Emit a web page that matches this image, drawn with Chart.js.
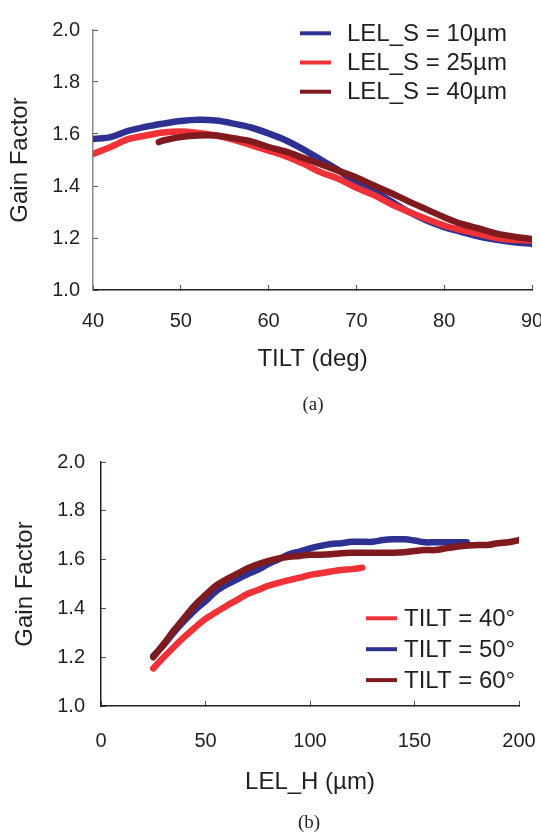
<!DOCTYPE html>
<html>
<head>
<meta charset="utf-8">
<script src="https://cdn.jsdelivr.net/npm/chart.js"></script>
<style>
  body { margin: 0; background: #fff; }
  #wrap { position: relative; width: 541px; height: 836px; }
  canvas { display: block; }
  .cap { position: absolute; font: 19px "Liberation Serif", "Times New Roman", serif; color: #231f20; transform: translate(-50%, -50%); }
</style>
</head>
<body>
<div id="wrap">
  <canvas id="chartA" width="541" height="420"></canvas>
  <canvas id="chartB" width="541" height="416"></canvas>
  <div class="cap" style="left:313px; top:404px">(a)</div>
  <div class="cap" style="left:309px; top:822px">(b)</div>
</div>
<script>
// (a) gain factor vs tilt
const tiltDeg = [40, 42, 44, 46, 48, 50, 52, 54, 56, 58, 60, 62, 64, 66, 68, 70, 72, 74, 76, 78, 80, 82, 84, 86, 88, 90]
const gainS10 = [1.581, 1.588, 1.612, 1.628, 1.64, 1.65, 1.655, 1.652, 1.64, 1.625, 1.602, 1.575, 1.54, 1.50, 1.46, 1.41, 1.38, 1.34, 1.30, 1.267, 1.242, 1.223, 1.205, 1.193, 1.184, 1.177]
const gainS25 = [1.523, 1.55, 1.58, 1.594, 1.606, 1.61, 1.604, 1.594, 1.578, 1.557, 1.536, 1.514, 1.485, 1.452, 1.427, 1.393, 1.365, 1.33, 1.30, 1.273, 1.248, 1.23, 1.215, 1.2, 1.193, 1.19]
const tiltS40 = [47.5, 48, 50, 52, 54, 56, 58, 60, 62, 64, 66, 68, 70, 72, 74, 76, 78, 80, 82, 84, 86, 88, 90]
const gainS40 = [1.569, 1.575, 1.588, 1.594, 1.594, 1.584, 1.572, 1.55, 1.532, 1.507, 1.483, 1.458, 1.433, 1.402, 1.372, 1.34, 1.31, 1.28, 1.254, 1.236, 1.217, 1.205, 1.196]

// (b) gain factor vs LEL_H
const lelH = [25, 30, 35, 40, 45, 50, 55, 60, 65, 70, 75, 80, 85, 90, 95, 100, 105, 110, 115, 120, 125, 130, 135, 140, 145, 150, 155, 160, 165, 170, 175, 180, 185, 190, 195, 200]
const gainT40 = [1.154, 1.20, 1.243, 1.284, 1.322, 1.357, 1.384, 1.41, 1.434, 1.459, 1.475, 1.493, 1.505, 1.516, 1.526, 1.537, 1.544, 1.551, 1.557, 1.561, 1.567]
const gainT50 = [1.205, 1.25, 1.303, 1.35, 1.393, 1.43, 1.47, 1.497, 1.518, 1.54, 1.558, 1.582, 1.601, 1.622, 1.633, 1.646, 1.656, 1.664, 1.667, 1.673, 1.673, 1.673, 1.68, 1.683, 1.683, 1.678, 1.671, 1.671, 1.671, 1.671, 1.671]
const gainT60 = [1.2, 1.254, 1.311, 1.363, 1.414, 1.455, 1.493, 1.519, 1.541, 1.564, 1.581, 1.594, 1.605, 1.612, 1.615, 1.62, 1.62, 1.622, 1.626, 1.628, 1.628, 1.628, 1.628, 1.628, 1.63, 1.635, 1.639, 1.639, 1.646, 1.653, 1.657, 1.66, 1.66, 1.667, 1.671, 1.68]

const BLUE = '#2e3192'
const RED = '#ee3237'
const DARK = '#7f1a1e'
const INK = '#231f20'

Chart.defaults.font.family = '"Liberation Sans", Arial, Helvetica, sans-serif'
Chart.defaults.color = INK

const pts = (xs, ys) => ys.map((y, i) => ({x: xs[i], y}))

const line = (label, data, color, order) => ({
    label, data, order,
    borderColor: color,
    backgroundColor: color,
    borderWidth: 6.5,
    borderCapStyle: 'round',
    borderJoinStyle: 'round',
    pointRadius: 0,
    tension: 0.35,
    fill: false
})

// legend drawn inside the plot area
const insideLegend = {
    id: 'insideLegend',
    afterDraw(chart, args, opts) {
        const ctx = chart.ctx
        ctx.save()
        ctx.font = '24px "Liberation Sans", Arial, sans-serif'
        ctx.textBaseline = 'middle'
        ctx.fillStyle = INK
        chart.data.datasets.forEach((ds, i) => {
            const y = opts.y + i * opts.rowH
            ctx.strokeStyle = ds.borderColor
            ctx.lineWidth = 4
            ctx.beginPath()
            ctx.moveTo(opts.x, y)
            ctx.lineTo(opts.x + opts.len, y)
            ctx.stroke()
            ctx.fillText(ds.label, opts.x + opts.len + opts.gap, y + 1)
        })
        ctx.restore()
    }
}

const axes = (cfg) => ({
    x: {
        type: 'linear', min: cfg.xmin, max: cfg.xmax,
        ticks: {stepSize: cfg.xstep, font: {size: 20}, padding: cfg.xpad, color: INK},
        grid: {drawOnChartArea: false, tickLength: -5, color: '#555', lineWidth: 1},
        border: {color: INK, width: 1.5},
        title: {display: true, text: cfg.xtitle, font: {size: 24}, color: INK, padding: {top: 4, bottom: 4}},
        afterFit: s => { s.height = cfg.xh; s.paddingLeft = 0; s.paddingRight = 0 }
    },
    y: {
        min: 1, max: 2,
        ticks: {stepSize: 0.2, font: {size: 20}, padding: cfg.ypad, color: INK, callback: v => v.toFixed(1)},
        grid: {drawOnChartArea: false, tickLength: -5, color: '#555', lineWidth: 1},
        border: {color: cfg.ycolor, width: 1.5},
        title: {display: true, text: 'Gain Factor', font: {size: 24}, color: INK, padding: {top: cfg.ytp, bottom: 0}},
        afterFit: s => { s.width = cfg.yw }
    }
})

new Chart('chartA', {
    type: 'line',
    data: {
        datasets: [
            line('LEL_S = 10\u00b5m', pts(tiltDeg, gainS10), BLUE, 2),
            line('LEL_S = 25\u00b5m', pts(tiltDeg, gainS25), RED, 1),
            line('LEL_S = 40\u00b5m', pts(tiltS40, gainS40), DARK, 0)
        ]
    },
    options: {
        responsive: false,
        animation: false,
        layout: {padding: {top: 20, right: 9, bottom: 42, left: 0}},
        scales: axes({xmin: 40, xmax: 90, xstep: 10, xpad: 24, xh: 88, xtitle: 'TILT (deg)',
                      ypad: 18, yw: 93, ytp: 6, ycolor: '#8a8a8a'}),
        plugins: {
            legend: {display: false},
            tooltip: {enabled: false},
            insideLegend: {x: 300, y: 33.3, rowH: 29.2, len: 31, gap: 16}
        }
    },
    plugins: [insideLegend]
})

new Chart('chartB', {
    type: 'line',
    data: {
        datasets: [
            line('TILT = 40\u00b0', pts(lelH, gainT40), RED, 2),
            line('TILT = 50\u00b0', pts(lelH, gainT50), BLUE, 1),
            line('TILT = 60\u00b0', pts(lelH, gainT60), DARK, 0)
        ]
    },
    options: {
        responsive: false,
        animation: false,
        layout: {padding: {top: 42, right: 22, bottom: 35, left: 0}},
        scales: axes({xmin: 0, xmax: 200, xstep: 50, xpad: 28, xh: 95, xtitle: 'LEL_H (\u00b5m)',
                      ypad: 21, yw: 101, ytp: 11, ycolor: INK}),
        plugins: {
            legend: {display: false},
            tooltip: {enabled: false},
            insideLegend: {x: 366, y: 198.3, rowH: 30.9, len: 31, gap: 7}
        }
    },
    plugins: [insideLegend]
})
</script>
</body>
</html>
